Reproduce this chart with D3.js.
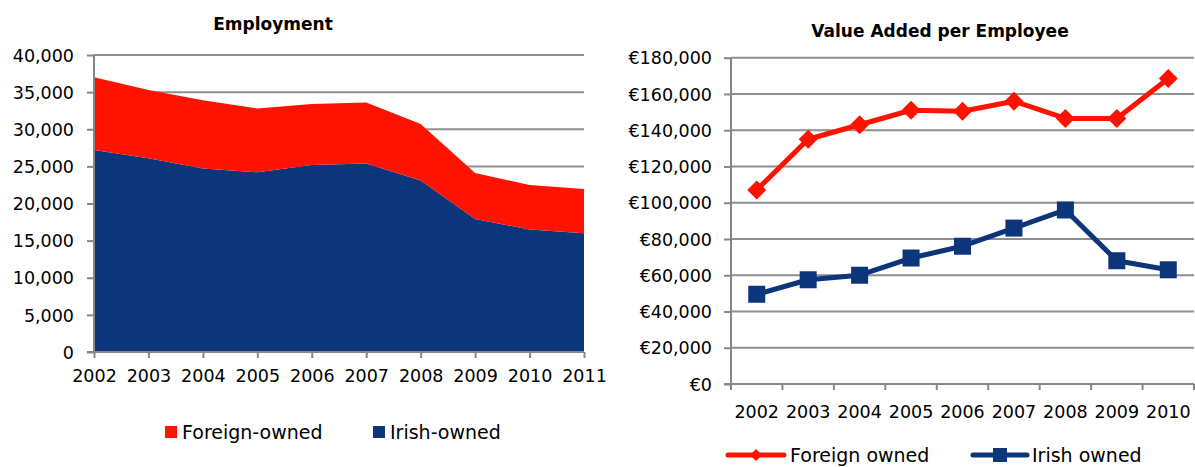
<!DOCTYPE html>
<html><head><meta charset="utf-8">
<script src="https://cdn.jsdelivr.net/npm/d3@7"></script>
<style>
body{margin:0;background:#fff;}
svg text{font-family:"DejaVu Sans",sans-serif;fill:#000;}
</style></head>
<body><svg id="c" width="1195" height="467"></svg>
<script>
// ---- Data ----
const empYears = [2002,2003,2004,2005,2006,2007,2008,2009,2010,2011];
const empIrish = [27200,26100,24700,24200,25200,25400,23100,17900,16500,16000];
const empForeign = [9800,9200,9200,8600,8200,8200,7600,6200,6000,5950];
const empTicks = [0,5000,10000,15000,20000,25000,30000,35000,40000];

const vaYears = [2002,2003,2004,2005,2006,2007,2008,2009,2010];
const vaForeign = [107000,135000,143000,151000,150500,156000,146500,146500,168500];
const vaIrish = [49500,57500,60000,69500,76000,86000,96000,68000,63000];
const vaTicks = [0,20000,40000,60000,80000,100000,120000,140000,160000,180000];

const RED = "#ff1200", BLUE = "#0c357a", GRID = "#8e8e8e", AXIS = "#868686";
const svg = d3.select("#c");
const fmt = d3.format(",");

// ---- Left: Employment ----
(function(){
  const x = d3.scalePoint().domain(empYears).range([94,584]);
  const y = d3.scaleLinear().domain([0,40000]).range([352,55]);
  const g = svg.append("g");
  g.append("text").attr("x",273).attr("y",24).attr("text-anchor","middle")
    .attr("dominant-baseline","central").style("font-size","17px").style("font-weight","bold").text("Employment");
  // gridlines
  g.selectAll("line.grid").data(empTicks.filter(d=>d>0)).join("line")
    .attr("x1",94).attr("x2",584).attr("y1",d=>y(d)).attr("y2",d=>y(d))
    .attr("stroke",GRID).attr("stroke-width",2);
  // stacked areas
  const rows = empYears.map((yr,i)=>({year:yr, irish:empIrish[i], foreign:empForeign[i]}));
  const stack = d3.stack().keys(["irish","foreign"])(rows);
  const area = d3.area().x(d=>x(d.data.year)).y0(d=>y(d[0])).y1(d=>y(d[1]));
  g.selectAll("path.area").data(stack).join("path")
    .attr("d",area).attr("fill",(d,i)=>i===0?BLUE:RED);
  // y axis
  const ya = d3.axisLeft(y).tickValues(empTicks).tickFormat(fmt).tickSize(7).tickPadding(13);
  const yg = g.append("g").attr("transform","translate(94,0)").call(ya);
  yg.select(".domain").attr("stroke",AXIS).attr("stroke-width",2).attr("d","M0,55V352");
  yg.selectAll(".tick line").attr("stroke",AXIS).attr("stroke-width",2);
  yg.selectAll("text").style("font-size","17.5px").attr("dy","0.35em");
  // x axis
  const xa = d3.axisBottom(x).tickSize(6).tickPadding(12);
  const xg = g.append("g").attr("transform","translate(0,352)").call(xa);
  xg.select(".domain").attr("stroke",AXIS).attr("stroke-width",2).attr("d","M87,0H584");
  xg.selectAll(".tick line").attr("stroke",AXIS).attr("stroke-width",2);
  xg.selectAll("text").style("font-size","17.5px");
  // legend
  const lg = g.append("g");
  const items = [{t:"Foreign-owned",c:RED,x:165},{t:"Irish-owned",c:BLUE,x:373}];
  lg.selectAll("rect").data(items).join("rect").attr("x",d=>d.x).attr("y",426).attr("width",12).attr("height",12).attr("fill",d=>d.c);
  lg.selectAll("text").data(items).join("text").attr("x",d=>d.x+17).attr("y",432)
    .attr("dominant-baseline","central").style("font-size","19px").text(d=>d.t);
})();

// ---- Right: Value Added per Employee ----
(function(){
  const x = d3.scaleBand().domain(vaYears).range([731,1194]);
  const y = d3.scaleLinear().domain([0,180000]).range([384,57.7]);
  const g = svg.append("g");
  g.append("text").attr("x",940).attr("y",31).attr("text-anchor","middle")
    .attr("dominant-baseline","central").style("font-size","17px").style("font-weight","bold").text("Value Added per Employee");
  g.selectAll("line.grid").data(vaTicks.filter(d=>d>0)).join("line")
    .attr("x1",731).attr("x2",1194).attr("y1",d=>y(d)).attr("y2",d=>y(d))
    .attr("stroke",GRID).attr("stroke-width",2);
  const ya = d3.axisLeft(y).tickValues(vaTicks).tickFormat(d=>"€"+fmt(d)).tickSize(7).tickPadding(12);
  const yg = g.append("g").attr("transform","translate(731,0)").call(ya);
  yg.select(".domain").attr("stroke",AXIS).attr("stroke-width",2).attr("d","M0,57.7V384");
  yg.selectAll(".tick line").attr("stroke",AXIS).attr("stroke-width",2);
  yg.selectAll("text").style("font-size","17.5px").attr("dy","0.35em");
  // x axis: ticks between categories
  const xg = g.append("g").attr("transform","translate(0,384)");
  xg.append("line").attr("x1",724).attr("x2",1194).attr("stroke",AXIS).attr("stroke-width",2);
  const bounds = vaYears.map(d=>x(d)).concat([x.range()[1]]);
  xg.selectAll("line.t").data(bounds).join("line").attr("class","t")
    .attr("x1",d=>d).attr("x2",d=>d).attr("y1",0).attr("y2",6).attr("stroke",AXIS).attr("stroke-width",2);
  xg.selectAll("text").data(vaYears).join("text")
    .attr("x",d=>x(d)+x.bandwidth()/2).attr("y",28).attr("text-anchor","middle")
    .attr("dominant-baseline","central").style("font-size","17.5px").text(d=>d);
  const cx = d=>x(d)+x.bandwidth()/2;
  const line = d3.line().x(d=>cx(d[0])).y(d=>y(d[1]));
  const series = [
    {name:"Foreign owned", vals:vaYears.map((yr,i)=>[yr,vaForeign[i]]), c:RED, m:"diamond"},
    {name:"Irish owned", vals:vaYears.map((yr,i)=>[yr,vaIrish[i]]), c:BLUE, m:"square"}
  ];
  const diamond = (px,py,r)=>`M${px},${py-r}L${px+r},${py}L${px},${py+r}L${px-r},${py}Z`;
  const square = (px,py,r)=>`M${px-r},${py-r}h${2*r}v${2*r}h${-2*r}Z`;
  series.forEach(s=>{
    g.append("path").attr("d",line(s.vals)).attr("fill","none").attr("stroke",s.c).attr("stroke-width",5).attr("stroke-linejoin","round");
    g.selectAll(null).data(s.vals).join("path")
      .attr("d",d=> s.m==="diamond" ? diamond(cx(d[0]),y(d[1]),9.5) : square(cx(d[0]),y(d[1]),8.5))
      .attr("fill",s.c);
  });
  // legend
  const legs = [{s:series[0],x0:728,x1:784,tx:790},{s:series[1],x0:973,x1:1027,tx:1032}];
  legs.forEach(l=>{
    g.append("line").attr("x1",l.x0).attr("x2",l.x1).attr("y1",455).attr("y2",455)
      .attr("stroke",l.s.c).attr("stroke-width",5).attr("stroke-linecap","round");
    const mx=(l.x0+l.x1)/2;
    g.append("path").attr("d",l.s.m==="diamond"?diamond(mx,455,6):square(mx,455,7)).attr("fill",l.s.c);
    g.append("text").attr("x",l.tx).attr("y",455).attr("dominant-baseline","central")
      .style("font-size","19px").text(l.s.name);
  });
})();
</script></body></html>
